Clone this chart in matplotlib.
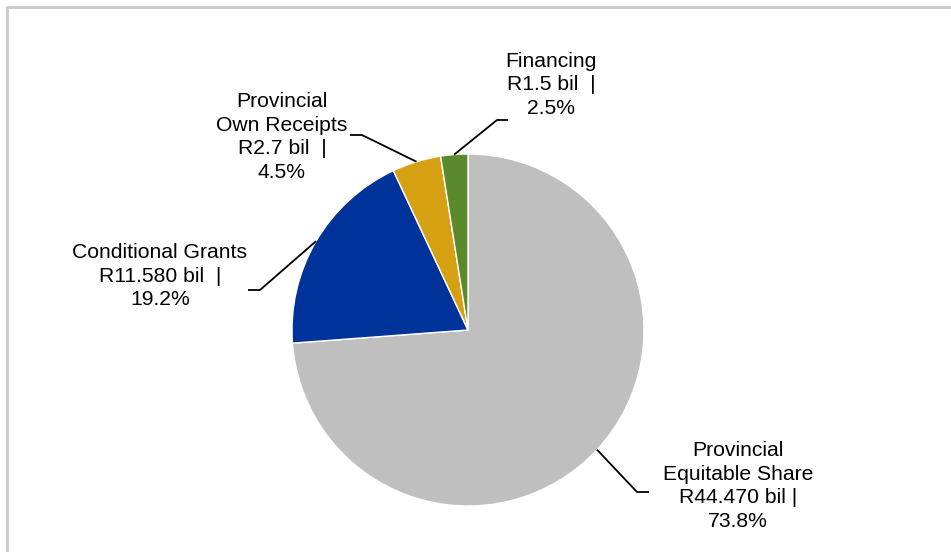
import numpy as np
from matplotlib import pyplot as plt

plt.rcParams["font.family"] = ["Liberation Sans", "DejaVu Sans"]

# provincial receipts, R billion
names = ["Provincial\nEquitable Share", "Conditional Grants", "Provincial\nOwn Receipts", "Financing"]
values = [44.470, 11.580, 2.7, 1.5]
amounts = ["R44.470 bil |", "R11.580 bil  |", "R2.7 bil  |", "R1.5 bil  |"]
colors = ["#BFBFBF", "#003399", "#D6A013", "#5A8A2B"]

W, H = 951, 552
fig = plt.figure(figsize=(W / 100, H / 100), dpi=100)
ax = fig.add_axes([0, 0, 1, 1])

cx, cy, r = 468, H - 330, 176
wedges, _ = ax.pie(values, colors=colors, startangle=90, counterclock=False,
                   center=(cx, cy), radius=r,
                   wedgeprops=dict(edgecolor="white", linewidth=1))

# label text centre and elbow of the leader line (pixels from top-left)
label_pos = [(738, 486), (160, 276), (282, 137), (551, 85)]
elbows = [((637, 492), (649, 492)), ((260, 290), (248, 290)),
          ((362, 135), (350, 135)), ((497, 120), (508, 120))]

total = sum(values)
for w, name, amt, v, (tx, ty), (e1, e2) in zip(wedges, names, amounts, values, label_pos, elbows):
    mid = np.deg2rad((w.theta1 + w.theta2) / 2)
    sx, sy = cx + r * np.cos(mid), cy + r * np.sin(mid)
    ax.plot([sx, e1[0], e2[0]], [sy, H - e1[1], H - e2[1]], color="black", lw=1.3,
            solid_capstyle="butt")
    ax.text(tx, H - ty, f"{name}\n{amt}\n{v / total * 100:.1f}%", ha="center", va="center",
            fontsize=15.2, linespacing=1.31)

# outer frame
ax.plot([6.5, 6.5, W], [0, H - 6.5, H - 6.5], color="#C8C8C8", lw=2)

ax.set_xlim(0, W)
ax.set_ylim(0, H)
ax.set_aspect("auto")
ax.axis("off")

fig.savefig("out.png", dpi=100)
